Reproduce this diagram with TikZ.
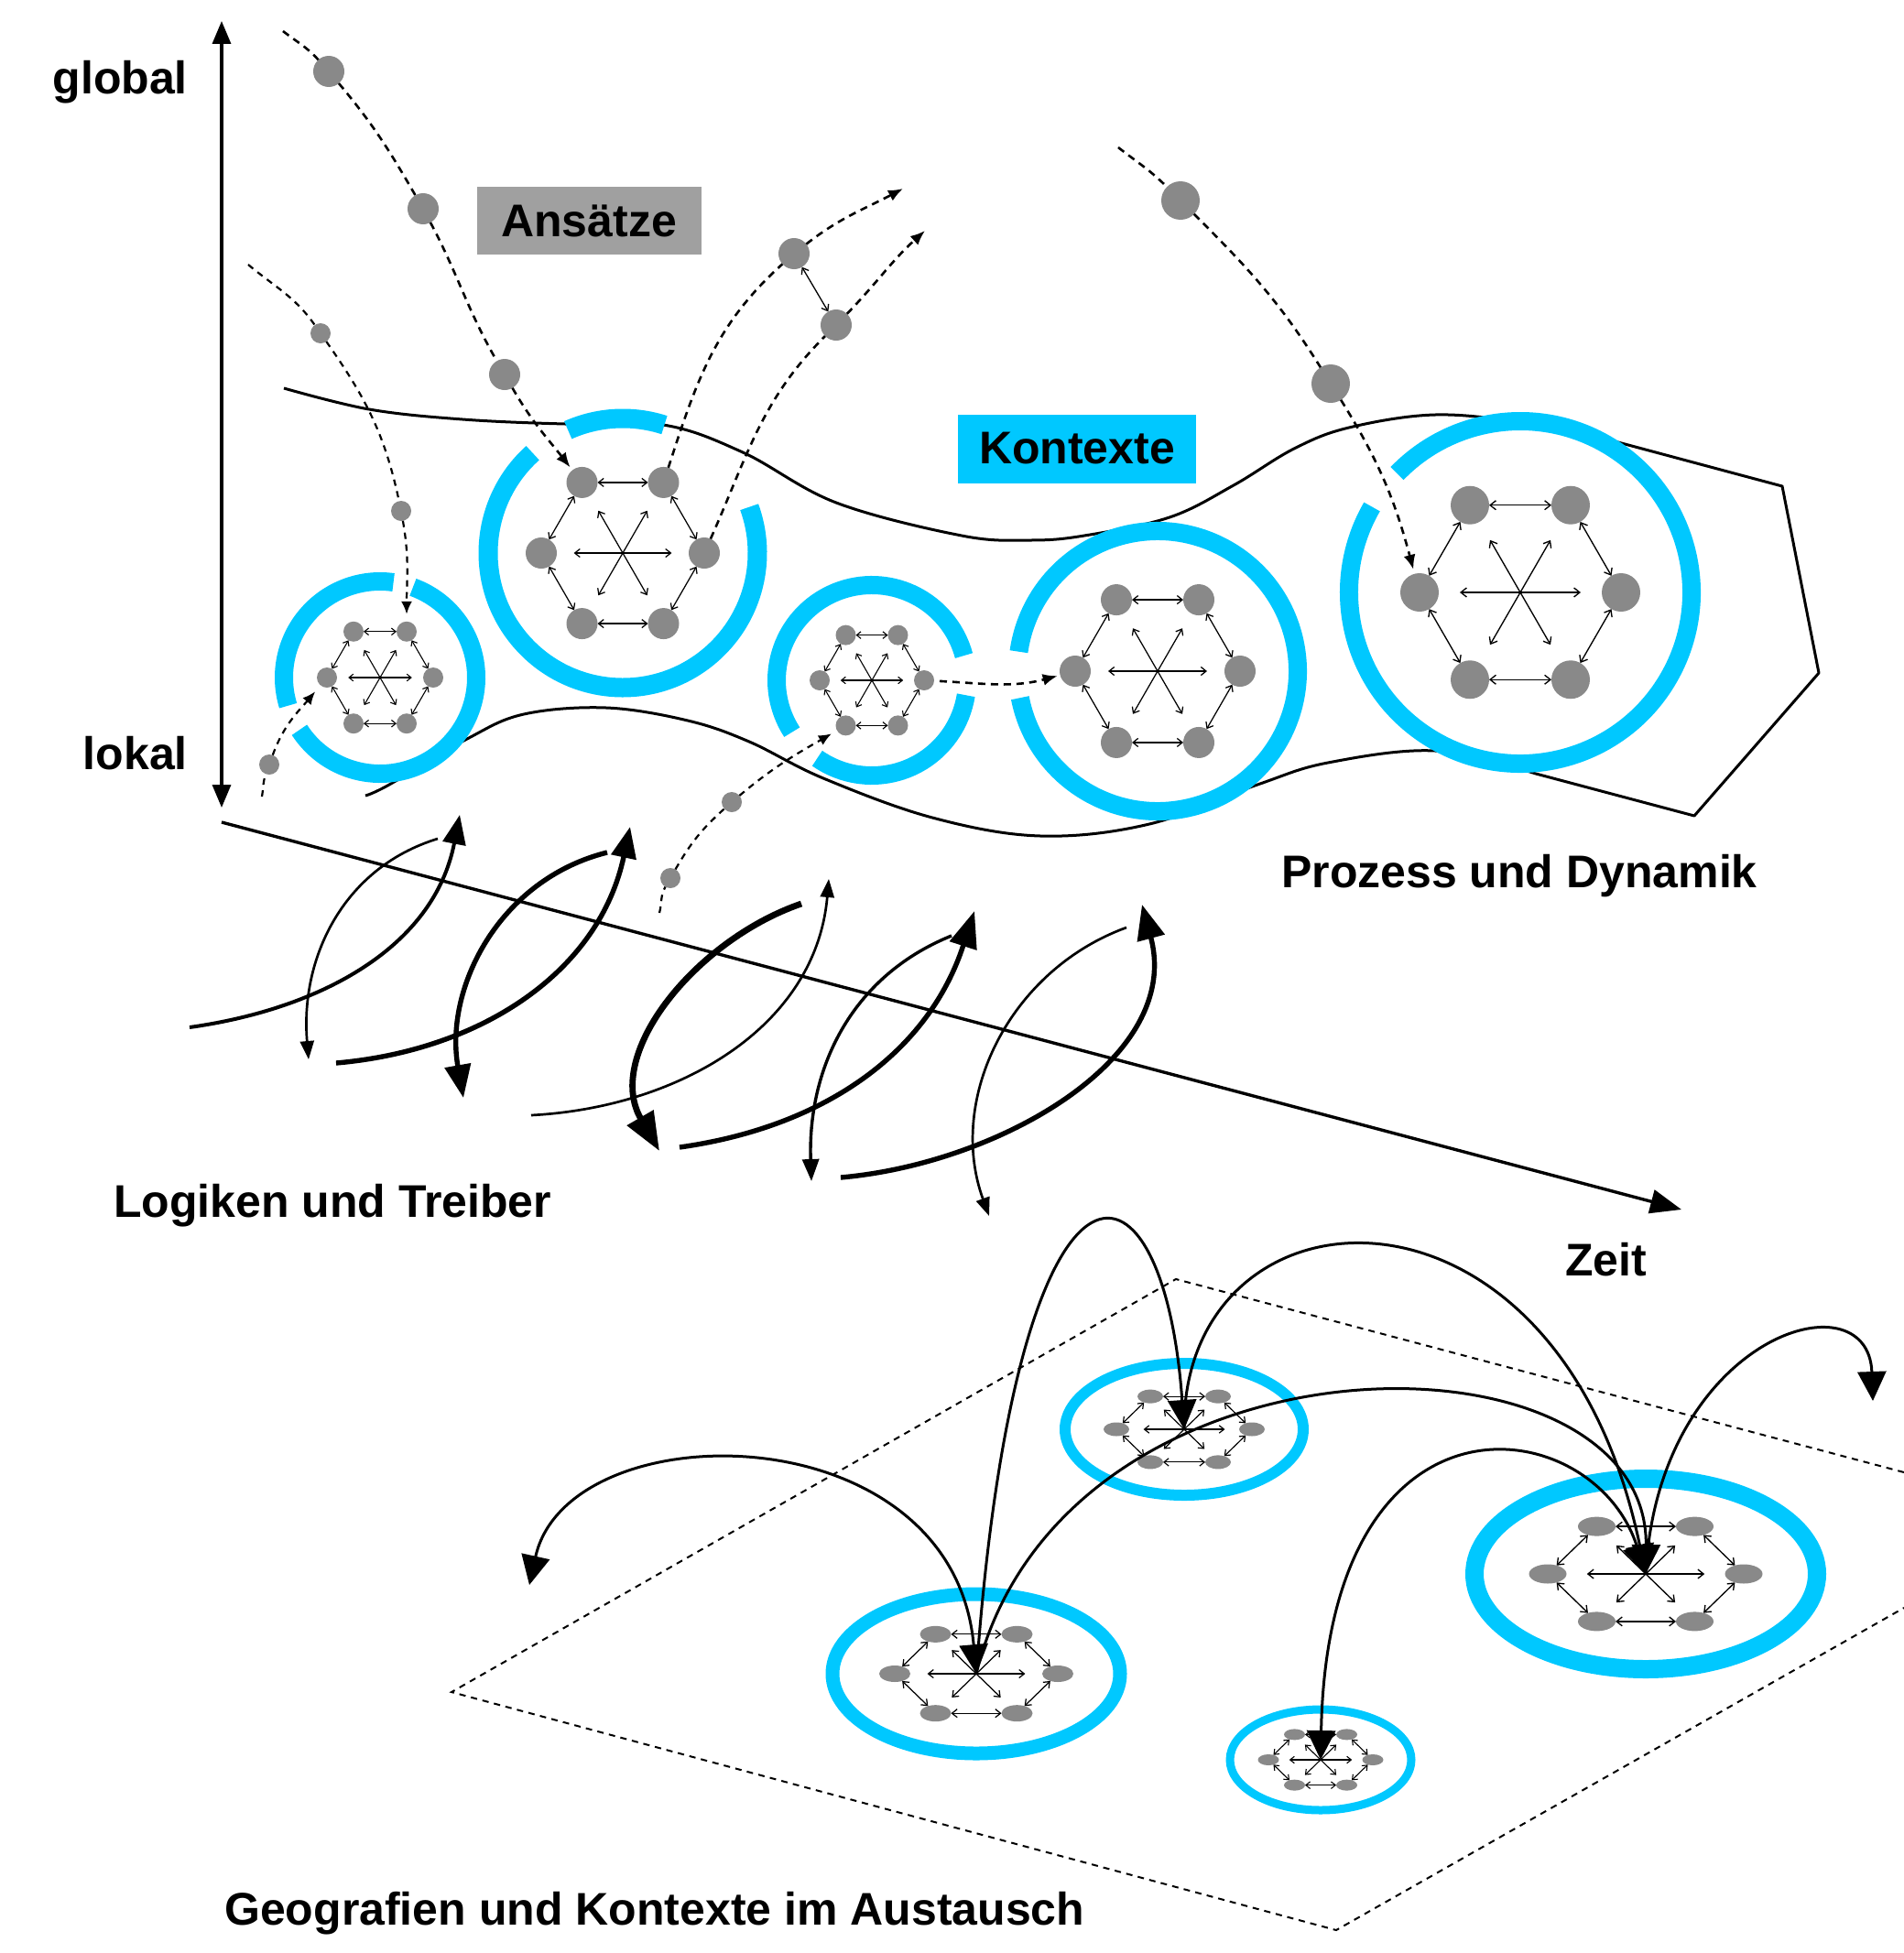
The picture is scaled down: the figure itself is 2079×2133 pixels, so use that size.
\documentclass[tikz,border=0pt]{standalone}
\usepackage{fontspec}
\setmainfont{Liberation Sans}
\usetikzlibrary{arrows.meta,calc,shapes.geometric}

\definecolor{ctxblue}{RGB}{0,200,255}
\definecolor{dotgray}{RGB}{137,137,137}
\definecolor{boxgray}{RGB}{160,160,160}

% six linked actors around one centre: name, x, y, radius, squash, dot width, dot height
\newcommand{\hexcluster}[7]{%
  \coordinate (#1) at (#2,#3);
  \pgfmathsetmacro{\hxr}{#4}%
  \pgfmathsetmacro{\hxv}{#4*#5}%
  \pgfmathsetmacro{\hxsr}{0.6*#4}%
  \pgfmathsetmacro{\hxsv}{0.6*#4*#5}%
  \pgfmathsetmacro{\hxtip}{3+0.03*#4}%
  \pgfmathsetmacro{\hxtipw}{5+0.045*#4}%
  \pgfmathsetmacro{\hxlw}{0.8+0.005*#4}%
  \foreach \i/\a in {1/0,2/60,3/120,4/180,5/240,6/300}
    \node[dot, minimum width=#6pt, minimum height=#7pt] (#1-\i) at ($(#1)+(\a:\hxr pt and \hxv pt)$) {};
  \foreach \i/\j in {1/2,2/3,3/4,4/5,5/6,6/1}
    \draw[link] (#1-\i) -- (#1-\j);
  \foreach \a in {0,60,120}
    \draw[link] ($(#1)+(\a:\hxsr pt and \hxsv pt)$) -- ($(#1)-(\a:\hxsr pt and \hxsv pt)$);
}

\begin{document}
\begin{tikzpicture}[
    x=1pt, y=1pt,
    dot/.style={ellipse, fill=dotgray, inner sep=0pt, outer sep=0pt},
    pdot/.style={circle, fill=dotgray, inner sep=0pt, outer sep=0pt, minimum size=#1},
    ring/.style={draw=ctxblue, line width=#1},
    link/.style={line width=\hxlw pt, {Straight Barb[length=\hxtip pt,width=\hxtipw pt]}-{Straight Barb[length=\hxtip pt,width=\hxtipw pt]}},
    thinlink/.style={line width=1.3pt, {Straight Barb[length=6pt,width=9pt]}-{Straight Barb[length=6pt,width=9pt]}},
    band/.style={line width=3pt, line join=round},
    axis/.style={line width=3.4pt},
    track/.style={line width=2.6pt, dash pattern=on 8pt off 6pt, -{Latex[length=16pt,width=13pt]}},
    trackthin/.style={line width=2.2pt, dash pattern=on 7pt off 6pt, -{Latex[length=14pt,width=12pt]}},
    swirl/.style n args={3}{line width=#1pt, -{Triangle[length=#2pt,width=#3pt]}},
    plane/.style={line width=2pt, dash pattern=on 7pt off 6pt},
    hop/.style={line width=3pt},
    hoptip/.style={Triangle[length=32pt,width=31pt]},
    lbl/.style={font=\fontsize{50}{60}\selectfont\bfseries, inner sep=0pt}
]
\useasboundingbox (0,0) rectangle (2079,-2133);

% band of contexts
\draw[band] plot[smooth, tension=0.6] coordinates {(310,-424) (403,-447) (505,-458) (617,-463) (724,-464) (811,-494) (913,-549) (1050,-585) (1124,-590) (1184,-585) (1277,-565) (1347,-530) (1413,-490) (1473,-467) (1567,-453) (1665,-462) (1763,-482)}
  -- (1946,-531) -- (1986,-735) -- (1850,-891)
  -- plot[smooth, tension=0.6] coordinates {(1677,-845) (1567,-820) (1450,-833) (1373,-857) (1255,-900) (1136,-913) (1018,-893) (899,-850) (818,-810) (751,-787) (662,-773) (572,-780) (510,-807) (425,-857) (399,-869)};

% Axes
\coordinate (gtop) at (242,-23);
\coordinate (gbot) at (242,-882);
\draw[axis, {Triangle[length=25pt,width=20pt]}-{Triangle[length=25pt,width=20pt]}] (gtop) -- (gbot);
\coordinate (t0) at (242,-898);
\coordinate (t1) at (1836,-1321);
\draw[axis, -{Triangle[length=34pt,width=26pt]}] (t0) -- (t1);

% Logics and drivers
\coordinate (sw1a) at (207,-1122);   \coordinate (sw1b) at (502,-890);
\coordinate (sw2a) at (478,-916);    \coordinate (sw2b) at (337,-1157);
\coordinate (sw3a) at (367,-1161);   \coordinate (sw3b) at (688,-903);
\coordinate (sw4a) at (663,-931);    \coordinate (sw4b) at (506,-1199);
\coordinate (sw5a) at (580,-1218);   \coordinate (sw5b) at (905,-960);
\coordinate (sw6a) at (875,-987);    \coordinate (sw6b) at (720,-1257);
\coordinate (sw7a) at (742,-1253);   \coordinate (sw7b) at (1064,-995);
\coordinate (sw8a) at (1039,-1022);  \coordinate (sw8b) at (886,-1290);
\coordinate (sw9a) at (918,-1286);   \coordinate (sw9b) at (1247,-988);
\coordinate (sw10a) at (1230,-1013); \coordinate (sw10b) at (1080,-1328);

\draw[swirl={4}{32}{25}] (sw1a) to[out=8,in=259] (sw1b);
\draw[swirl={2.7}{20}{15}] (sw2a) to[out=197,in=95] (sw2b);
\draw[swirl={5.4}{34}{27}] (sw3a) to[out=5,in=258] (sw3b);
\draw[swirl={5.4}{36}{28}] (sw4a) to[out=194,in=100] (sw4b);
\draw[swirl={2.7}{20}{15}] (sw5a) to[out=3,in=265] (sw5b);
\draw[swirl={6.8}{42}{32}] (sw6a) to[out=199,in=120] (sw6b);
\draw[swirl={5.4}{40}{30}] (sw7a) to[out=8,in=252] (sw7b);
\draw[swirl={3.4}{24}{18}] (sw8a) to[out=202,in=92] (sw8b);
\draw[swirl={5.4}{38}{30}] (sw9a) to[out=5,in=285] (sw9b);
\draw[swirl={2.7}{20}{15}] (sw10a) to[out=200,in=110] (sw10b);

% Contexts in time
\hexcluster{r1}{415}{-740}{58}{1}{22}{22}
\hexcluster{r2}{680}{-604}{89}{1}{34}{34}
\hexcluster{r3}{952}{-743}{57}{1}{22}{22}
\hexcluster{r4}{1264}{-733}{90}{1}{34}{34}
\hexcluster{r5}{1660}{-647}{110}{1}{42}{42}

\draw[ring=20pt] ([shift={(82:105pt)}]r1) arc[start angle=82, end angle=197, radius=105pt];
\draw[ring=20pt] ([shift={(213:105pt)}]r1) arc[start angle=213, end angle=430, radius=105pt];
\draw[ring=21pt] ([shift={(132:147pt)}]r2) arc[start angle=132, end angle=380, radius=147pt];
\draw[ring=21pt] ([shift={(72:147pt)}]r2) arc[start angle=72, end angle=114, radius=147pt];
\draw[ring=20pt] ([shift={(15:104pt)}]r3) arc[start angle=15, end angle=213, radius=104pt];
\draw[ring=20pt] ([shift={(235:104pt)}]r3) arc[start angle=235, end angle=351, radius=104pt];
\draw[ring=20pt] ([shift={(191:153pt)}]r4) arc[start angle=191, end angle=532, radius=153pt];
\draw[ring=20pt] ([shift={(150:187pt)}]r5) arc[start angle=150, end angle=496, radius=187pt];

% Approaches
\coordinate (a0) at (309,-34);
\node[pdot=34pt] (a1) at (359,-78) {};
\node[pdot=34pt] (a2) at (462,-228) {};
\node[pdot=34pt] (a3) at (551,-409) {};
\draw[track, shorten >=4pt] (a0) to[out=-38,in=132] (a1) to[out=-50,in=120] (a2) to[out=-62,in=120] (a3) to[out=-60,in=128] (r2-3);

\coordinate (b0) at (271,-289);
\node[pdot=22pt] (b1) at (350,-364) {};
\node[pdot=22pt] (b2) at (438,-558) {};
\draw[trackthin, shorten >=8pt] (b0) to[out=-40,in=125] (b1) to[out=-55,in=102] (b2) to[out=-80,in=90] (r1-2);

\node[pdot=34pt] (c1) at (867,-277) {};
\node[pdot=34pt] (c2) at (913,-355) {};
\coordinate (c1e) at (986,-206);
\coordinate (c2e) at (1010,-252);
\draw[track] (r2-2) to[out=72,in=222] (c1) to[out=38,in=208] (c1e);
\draw[track] (r2-1) to[out=66,in=225] (c2) to[out=46,in=222] (c2e);
\draw[thinlink] (c1) -- (c2);

\coordinate (d0) at (1221,-161);
\node[pdot=42pt] (d1) at (1289,-219) {};
\node[pdot=42pt] (d2) at (1453,-419) {};
\draw[track, shorten >=5pt] (d0) to[out=-38,in=135] (d1) to[out=-45,in=122] (d2) to[out=-58,in=105] (r5-4);

\coordinate (e0) at (286,-870);
\node[pdot=22pt] (e1) at (294,-835) {};
\draw[trackthin, shorten >=9pt] (e0) to[out=80,in=250] (e1) to[out=70,in=230] (r1-4);

\coordinate (f0) at (720,-997);
\node[pdot=22pt] (f1) at (732,-959) {};
\node[pdot=22pt] (f2) at (799,-876) {};
\draw[trackthin, shorten >=7pt] (f0) to[out=75,in=240] (f1) to[out=60,in=222] (f2) to[out=40,in=210] (r3-5);

\draw[track, shorten <=6pt, shorten >=3pt] (r3-1) to[out=-3,in=195] (r4-4);

% Labels
\node[lbl, anchor=base east] (glob) at (205,-102) {global};
\node[lbl, anchor=base east] (lok) at (205,-840) {lokal};
\node[lbl, fill=boxgray, minimum width=245pt, minimum height=74pt] (ans) at (643,-241) {Ansätze};
\node[lbl, fill=ctxblue, minimum width=260pt, minimum height=75pt] (kon) at (1176,-490) {Kontexte};
\node[lbl, anchor=base west] (proz) at (1399,-969) {Prozess und Dynamik};
\node[lbl, anchor=base west] (logik) at (124,-1329) {Logiken und Treiber};
\node[lbl, anchor=base west] (zeit) at (1709,-1393) {Zeit};
\node[lbl, anchor=base west] (geo) at (245,-2102) {Geografien und Kontexte im Austausch};

% Geographies: plane and contexts
\draw[plane] (2079,-1608) -- (1284,-1397) -- (493,-1848) -- (1459,-2108) -- (2079,-1756);

\hexcluster{g1}{1066}{-1828}{89}{0.56}{34}{18}
\hexcluster{g2}{1293}{-1561}{74}{0.56}{28}{15}
\hexcluster{g3}{1797}{-1719}{107}{0.56}{41}{21}
\hexcluster{g4}{1442}{-1922}{57}{0.56}{23}{12}

\draw[ring=15pt] (g1) ellipse [x radius=157pt, y radius=87pt];
\draw[ring=12pt] (g2) ellipse [x radius=130pt, y radius=72pt];
\draw[ring=20pt] (g3) ellipse [x radius=187pt, y radius=104pt];
\draw[ring=9pt] (g4) ellipse [x radius=99pt, y radius=55pt];

% Exchange between places
\coordinate (lt) at (578,-1731);
\coordinate (rt) at (2045,-1530);
\draw[hop, {Triangle[length=32pt,width=31pt]}-{Triangle[length=32pt,width=31pt]}] (g1) .. controls (1040,-1540) and (620,-1540) .. (lt);
\draw[hop, -{Triangle[length=32pt,width=31pt]}] (g1) .. controls (1110,-1215) and (1270,-1235) .. (g2);
\draw[hop, -{Triangle[length=32pt,width=31pt]}] (g1) .. controls (1160,-1440) and (1800,-1440) .. (g3);
\draw[hop, -{Triangle[length=32pt,width=31pt]}] (g2) .. controls (1290,-1285) and (1700,-1255) .. (g3);
\draw[hop, -{Triangle[length=32pt,width=31pt]}] (g3) .. controls (1810,-1460) and (2040,-1390) .. (rt);
\draw[hop, {Triangle[length=32pt,width=31pt]}-{Triangle[length=32pt,width=31pt]}] (g4) .. controls (1450,-1500) and (1740,-1540) .. (g3);

\end{tikzpicture}
\end{document}
